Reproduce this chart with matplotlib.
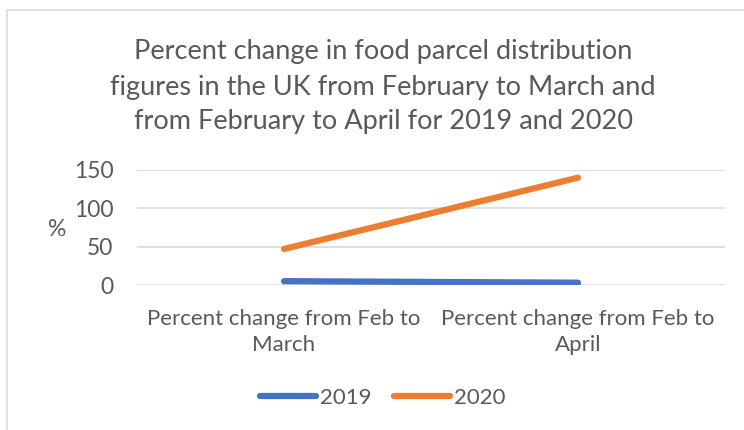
import matplotlib
matplotlib.use("Agg")
import matplotlib.pyplot as plt
from matplotlib.patches import Rectangle

categories = ["Percent change from Feb to\nMarch", "Percent change from Feb to\nApril"]
series_names = ["2019", "2020"]
values_2019 = [5, 3]
values_2020 = [47, 140]
yticks = [0, 50, 100, 150]
title = ("Percent change in food parcel distribution\n"
         "figures in the UK from February to March and\n"
         "from February to April for 2019 and 2020")

plt.rcParams['font.family'] = ['Lato', 'DejaVu Sans']
txt = '#595959'

W, H = 744, 430
fig = plt.figure(figsize=(W/100, H/100), dpi=100)
fig.patch.set_facecolor('white')
fig.add_artist(Rectangle((7/W, -0.1), 1.2, 1 - 10/H + 0.1, transform=fig.transFigure,
                         fill=False, edgecolor='#D9D9D9', linewidth=1.2))

ax = fig.add_axes([137/W, 1 - 285/H, (725-137)/W, (285-170)/H])
x = [0, 1]
ax.plot(x, values_2019, color='#4472C4', lw=4.5, solid_capstyle='round', label=series_names[0], zorder=3)
ax.plot(x, values_2020, color='#ED7D31', lw=4.5, solid_capstyle='round', label=series_names[1], zorder=3)
ax.set_xlim(-0.5, 1.5)
ax.set_ylim(0, 150)
ax.set_yticks(yticks)
ax.set_yticklabels([str(v) for v in yticks], fontsize=16.5, color=txt)
ax.set_xticks(x)
ax.set_xticklabels(categories, fontsize=16, color=txt, linespacing=1.4)
ax.tick_params(length=0, axis='y', pad=17)
ax.tick_params(length=0, axis='x', pad=17)
for s in ax.spines.values():
    s.set_visible(False)
ax.grid(axis='y', color='#D9D9D9', lw=1.2, zorder=0)
ax.set_axisbelow(True)

fig.text(57/W, 1 - 230/H, '%', fontsize=16.5, color=txt, ha='center', va='center')
fig.text(383/W, 1 - 87/H, title, fontsize=19.5, color=txt, ha='center', va='center', linespacing=1.5)

leg = fig.legend(loc='center', bbox_to_anchor=(383/W, 1 - 398/H), ncol=2, frameon=False,
                 fontsize=16, handlelength=2.5, handletextpad=0.2, columnspacing=1.0)
for t in leg.get_texts():
    t.set_color(txt)

fig.savefig('out.png', dpi=100, facecolor='white')
